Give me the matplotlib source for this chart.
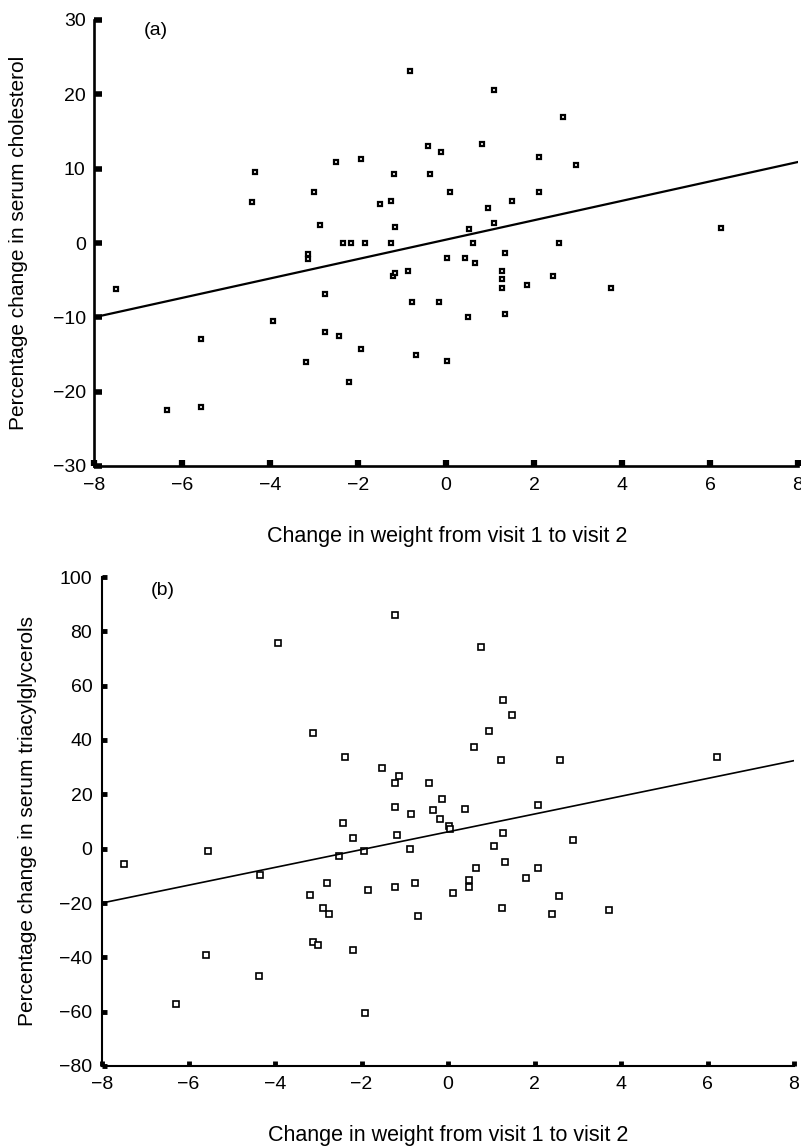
import matplotlib
matplotlib.use("Agg")
import matplotlib.pyplot as plt

plt.rcParams['font.family'] = ['Liberation Sans', 'DejaVu Sans']

### panel (a): weight change vs % change in serum cholesterol
weight_a = [-0.82, -0.40, -0.12, -4.34, -2.49, -1.93, -1.19, -0.36, 0.10, -3.00,
            -4.40, -1.51, -1.24, -2.87, -1.15, 1.09, 2.67, 0.81, 2.11, 2.95,
            2.11, 1.50, 0.96, 1.09, 0.53, 6.25, -2.35, -2.16, -1.85, -1.24,
            -3.14, -3.14, 0.02, -1.20, -1.15, -0.86, -7.51, -2.76, -0.77, -0.15,
            -3.93, -5.56, -2.76, -2.44, -1.93, -0.68, 0.02, -3.18, -2.21, -6.35,
            -5.56, 0.62, 2.57, 1.33, 0.44, 0.67, 1.28, 1.28, 1.28, 2.44,
            1.83, 3.74, 0.49, 1.33]
chol = [23.1, 13.1, 12.2, 9.55, 10.9, 11.3, 9.3, 9.3, 6.9, 6.9,
        5.5, 5.3, 5.6, 2.4, 2.1, 20.6, 16.9, 13.3, 11.6, 10.45,
        6.9, 5.6, 4.7, 2.7, 1.85, 2.0, 0.0, 0.0, 0.0, 0.0,
        -1.5, -2.1, -2.0, -4.4, -4.1, -3.8, -6.2, -6.9, -8.0, -8.0,
        -10.5, -12.9, -12.0, -12.5, -14.2, -15.1, -15.9, -16.0, -18.7, -22.5,
        -22.0, 0.0, 0.0, -1.35, -2.0, -2.65, -3.8, -4.9, -6.0, -4.4,
        -5.6, -6.0, -10.0, -9.6]
fit_x = [-8, 8]
fit_a = [-10.0, 10.9]

### panel (b): weight change vs % change in serum triacylglycerols
weight_b = [-3.94, -3.13, -2.39, -1.52, -1.13, -1.22, -0.44, -0.15, -1.22, -0.85,
            -0.35, -0.18, 0.02, 0.04, -2.42, -2.19, -1.18, -5.54, -7.50, -2.51,
            -1.94, -0.89, 0.77, 1.27, 1.47, 0.94, 0.60, 1.22, 2.60, 6.21,
            0.40, 2.09, 1.27, 1.06, 2.89, 1.32, 0.65, 2.09, -4.34, -2.80,
            -3.18, -1.85, -1.22, -0.76, -2.88, -2.76, -0.69, -3.13, -3.01, -2.19,
            -5.59, -4.38, -6.29, -1.93, 0.49, 0.49, 1.81, 0.11, 2.56, 1.26,
            2.40, 3.73, -1.22]
tag = [75.6, 42.7, 33.7, 29.8, 26.7, 24.2, 24.2, 18.2, 15.2, 12.9,
       14.1, 11.1, 8.3, 7.2, 9.3, 3.9, 5.2, -0.7, -5.65, -2.7,
       -0.7, -0.2, 74.4, 54.7, 49.3, 43.3, 37.4, 32.6, 32.6, 33.7,
       14.5, 15.9, 5.8, 0.85, 3.3, -4.9, -7.1, -7.1, -9.8, -12.8,
       -17.0, -15.1, -14.0, -12.8, -21.8, -24.1, -24.7, -34.3, -35.4, -37.3,
       -39.1, -46.9, -57.1, -60.6, -11.4, -14.0, -10.9, -16.3, -17.6, -21.8,
       -24.1, -22.4, 86.0]
fit_b = [-20.0, 32.4]

xlabel = "Change in weight from visit 1 to visit 2"

fig = plt.figure(figsize=(8.01, 11.47), dpi=100)

ax1 = fig.add_axes([94 / 801, 1 - 466 / 1147, 704 / 801, 446 / 1147])
ax1.plot(weight_a, chol, 's', ms=3.2, mfc='white', mec='black', mew=1.6, clip_on=False)
ax1.plot(fit_x, fit_a, color='black', lw=1.6)
ax1.set_xlim(-8, 8)
ax1.set_ylim(-30, 30)
ax1.set_xticks(range(-8, 9, 2))
ax1.set_yticks(range(-30, 31, 10))
ax1.tick_params(axis='y', direction='in', length=6, width=4, pad=6, labelsize=14)
ax1.tick_params(axis='x', direction='in', length=4.5, width=4.5, pad=8, labelsize=14)
ax1.text(-6.6, 28.6, "(a)", fontsize=14, va='center', ha='center')

ax2 = fig.add_axes([102 / 801, 1 - 1066 / 1147, 692 / 801, 489 / 1147])
ax2.plot(weight_b, tag, 's', ms=5, mfc='white', mec='black', mew=1.2, clip_on=False)
ax2.plot(fit_x, fit_b, color='black', lw=1.2)
ax2.set_xlim(-8, 8)
ax2.set_ylim(-80, 100)
ax2.set_xticks(range(-8, 9, 2))
ax2.set_yticks(range(-80, 101, 20))
ax2.tick_params(direction='in', length=3.5, width=3.5, pad=7, labelsize=14)
ax2.text(-6.6, 95, "(b)", fontsize=14, va='center', ha='center')

for ax, lw in [(ax1, 1.9), (ax2, 1.5)]:
    ax.spines['top'].set_visible(False)
    ax.spines['right'].set_visible(False)
    ax.spines['left'].set_linewidth(lw)
    ax.spines['bottom'].set_linewidth(lw)

fig.text(447 / 801, 1 - 537 / 1147, xlabel, fontsize=15.5, ha='center', va='center')
fig.text(448 / 801, 1 - 1136 / 1147, xlabel, fontsize=15.5, ha='center', va='center')
fig.text(19 / 801, 1 - 243 / 1147, "Percentage change in serum cholesterol",
         fontsize=15, rotation=90, ha='center', va='center')
fig.text(28 / 801, 1 - 821 / 1147, "Percentage change in serum triacylglycerols",
         fontsize=15, rotation=90, ha='center', va='center')

fig.savefig("out.png", dpi=100)
